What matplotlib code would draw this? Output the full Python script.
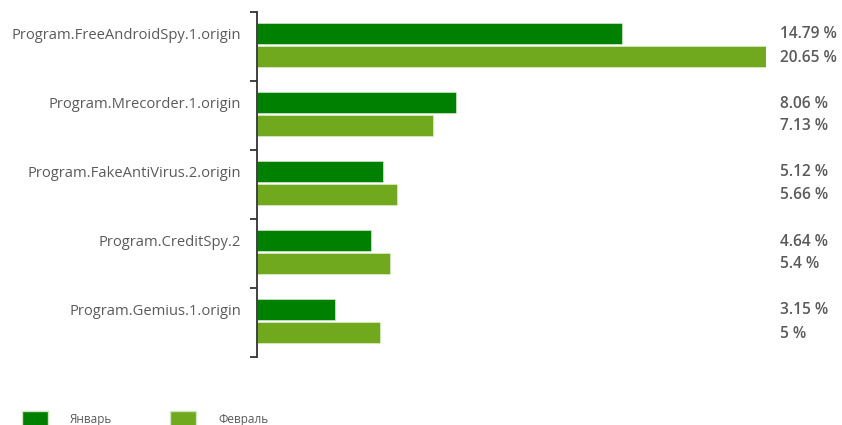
import matplotlib as mpl
import matplotlib.pyplot as plt
import numpy as np
from matplotlib.patches import Patch

categories = ["Program.FreeAndroidSpy.1.origin", "Program.Mrecorder.1.origin",
              "Program.FakeAntiVirus.2.origin", "Program.CreditSpy.2",
              "Program.Gemius.1.origin"]
jan = [14.79, 8.06, 5.12, 4.64, 3.15]
feb = [20.65, 7.13, 5.66, 5.4, 5.0]
series_names = ["Январь", "Февраль"]

c_jan = "#008000"
c_feb = "#70a91e"
txt = "#5a5a5a"

mpl.rcParams['font.family'] = ['Open Sans', 'DejaVu Sans']

W, H = 842, 425
fig = plt.figure(figsize=(W / 100, H / 100), dpi=100)
ax = fig.add_axes([257 / W, 1 - 357 / H, 509 / W, 345 / H])

n = len(categories)
idx = np.arange(n)
h = 21 / 69
y_jan = idx + (11 + 10.5) / 69
y_feb = idx + (34 + 10.5) / 69

ax.barh(y_jan, jan, height=h, color=c_jan, edgecolor="#e8f3e0", linewidth=0.4)
ax.barh(y_feb, feb, height=h, color=c_feb, edgecolor="#e8f3e0", linewidth=0.4)

ax.set_xlim(0, 20.65)
ax.set_ylim(n, 0)

for s in ["top", "right", "bottom"]:
    ax.spines[s].set_visible(False)
ax.spines["left"].set_color("#333333")
ax.spines["left"].set_linewidth(1.3)
ax.set_xticks([])
ax.set_yticks(np.arange(n + 1))
ax.set_yticklabels([])
ax.tick_params(axis="y", length=5, width=1.3, color="#333333")

for yj, c in zip(y_jan, categories):
    ax.annotate(c, xy=(0, yj), xycoords=("axes fraction", "data"),
                xytext=(-16, -2), textcoords="offset pixels",
                ha="right", va="center", fontsize=10.6, color=txt)

trans = mpl.transforms.blended_transform_factory(fig.transFigure, ax.transData)
for yj, yf, vj, vf in zip(y_jan, y_feb, jan, feb):
    for y, v in ((yj, vj), (yf, vf)):
        ax.annotate(f"{v:g} %", xy=(780 / W, y), xycoords=trans,
                    xytext=(0, -1), textcoords="offset pixels",
                    ha="left", va="center", fontsize=11.2, fontweight="semibold",
                    color=txt)

handles = [Patch(facecolor=c_jan, edgecolor="#cfe6c0"),
           Patch(facecolor=c_feb, edgecolor="#cfe6c0")]
fig.legend(handles, series_names, loc="lower left", bbox_to_anchor=(11 / W, -14 / H),
           ncol=2, frameon=False, fontsize=8.5, labelcolor=txt,
           handlelength=2.2, handleheight=1.9, handletextpad=1.9, columnspacing=4.9)

fig.savefig("out.png", dpi=100)
